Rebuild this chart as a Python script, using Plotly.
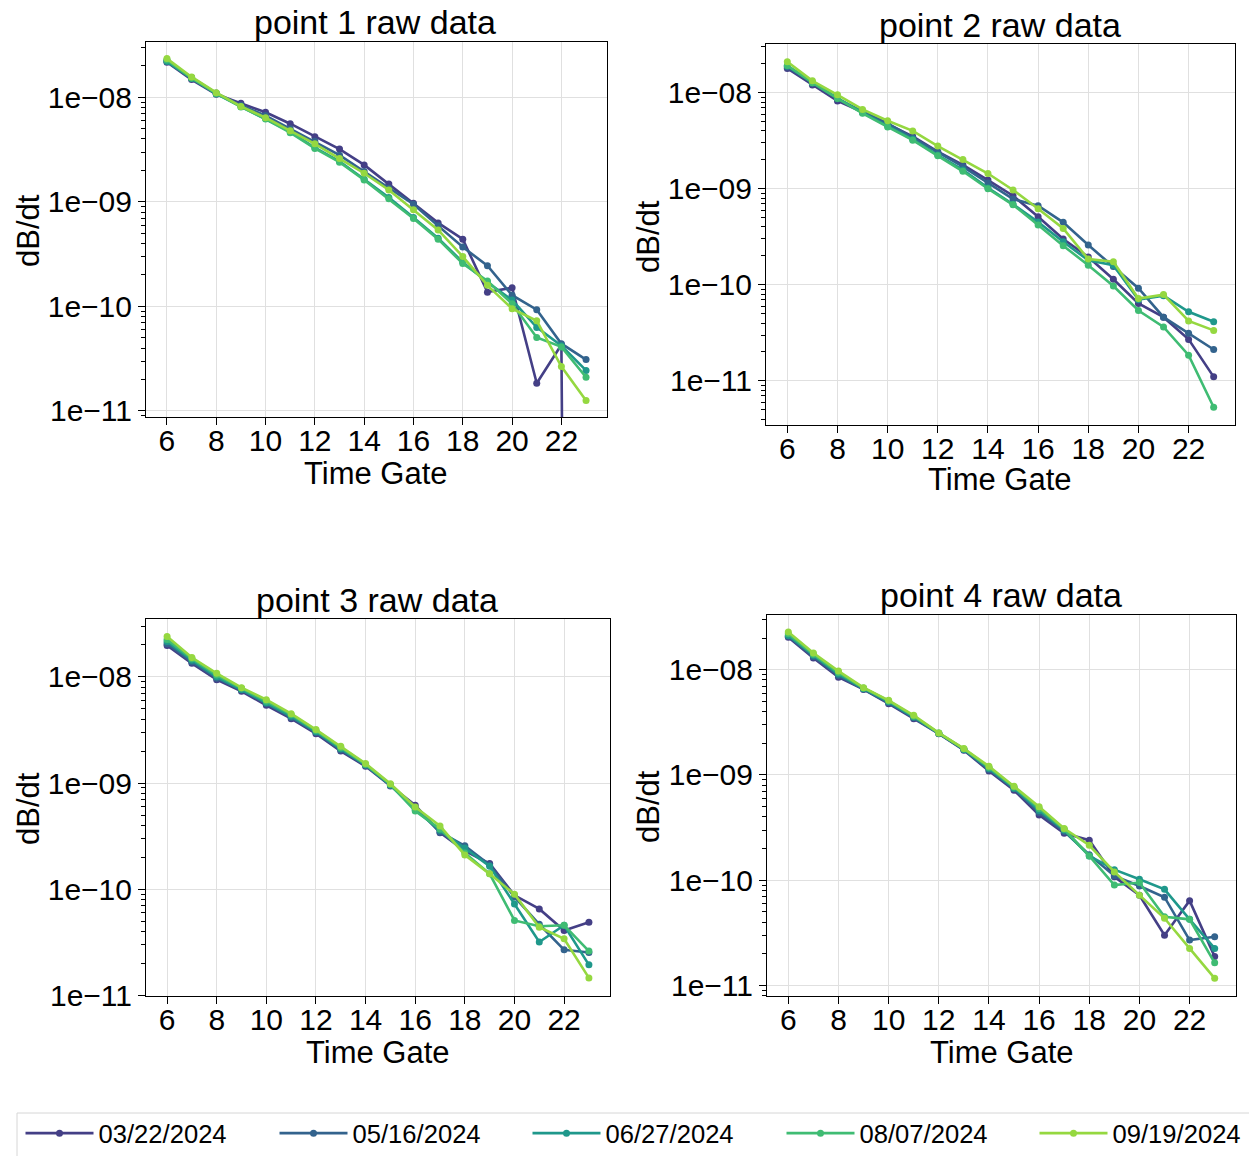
import plotly.graph_objects as go

W, H = 1249, 1156

gates = list(range(6, 24))
dates = ["03/22/2024", "05/16/2024", "06/27/2024", "08/07/2024", "09/19/2024"]
colors = ["#443f86", "#33638d", "#1f988b", "#3fbc73", "#95d840"]

# point 1 (last value of 03/22/2024 is non-positive in the source -> clipped far below axis)
p1_0322 = [2.17e-8, 1.48e-8, 1.07e-8, 8.8e-9, 7.2e-9, 5.6e-9, 4.2e-9, 3.2e-9, 2.26e-9, 1.48e-9, 9.7e-10, 6.3e-10, 4.4e-10, 1.37e-10, 1.51e-10, 1.84e-11, 4.3e-11, 1e-40]
p1_0516 = [2.25e-8, 1.55e-8, 1.1e-8, 8.4e-9, 6.7e-9, 5.0e-9, 3.8e-9, 2.8e-9, 1.95e-9, 1.35e-9, 9.5e-10, 5.9e-10, 3.7e-10, 2.45e-10, 1.28e-10, 9.3e-11, 4.4e-11, 3.1e-11]
p1_0627 = [2.2e-8, 1.52e-8, 1.08e-8, 8.2e-9, 6.3e-9, 4.7e-9, 3.3e-9, 2.45e-9, 1.65e-9, 1.1e-9, 7.1e-10, 4.5e-10, 2.65e-10, 1.7e-10, 1.15e-10, 6.3e-11, 4.2e-11, 2.44e-11]
p1_0807 = [2.28e-8, 1.53e-8, 1.09e-8, 8.1e-9, 6.2e-9, 4.6e-9, 3.25e-9, 2.4e-9, 1.62e-9, 1.07e-9, 6.95e-10, 4.4e-10, 2.57e-10, 1.75e-10, 1.06e-10, 5.05e-11, 4.1e-11, 2.1e-11]
p1_0919 = [2.35e-8, 1.57e-8, 1.11e-8, 8.2e-9, 6.4e-9, 4.8e-9, 3.6e-9, 2.6e-9, 1.88e-9, 1.3e-9, 8.4e-10, 5.4e-10, 3.0e-10, 1.59e-10, 9.5e-11, 7.3e-11, 2.66e-11, 1.26e-11]

# point 2
p2_0322 = [1.79e-8, 1.2e-8, 8.2e-9, 6.3e-9, 4.7e-9, 3.5e-9, 2.43e-9, 1.77e-9, 1.23e-9, 8.45e-10, 5.1e-10, 3.0e-10, 1.95e-10, 1.14e-10, 6.4e-11, 4.6e-11, 2.7e-11, 1.1e-11]
p2_0516 = [1.85e-8, 1.25e-8, 8.6e-9, 6.4e-9, 4.8e-9, 3.4e-9, 2.4e-9, 1.7e-9, 1.15e-9, 7.8e-10, 6.65e-10, 4.47e-10, 2.59e-10, 1.55e-10, 9.2e-11, 4.6e-11, 3.12e-11, 2.12e-11]
p2_0627 = [1.9e-8, 1.28e-8, 8.8e-9, 6.2e-9, 4.5e-9, 3.27e-9, 2.24e-9, 1.57e-9, 1.02e-9, 6.9e-10, 4.5e-10, 2.8e-10, 1.8e-10, 1.6e-10, 7.0e-11, 7.7e-11, 5.24e-11, 4.12e-11]
p2_0807 = [1.92e-8, 1.27e-8, 8.7e-9, 6.1e-9, 4.4e-9, 3.2e-9, 2.2e-9, 1.52e-9, 1.0e-9, 6.8e-10, 4.2e-10, 2.55e-10, 1.6e-10, 9.7e-11, 5.4e-11, 3.64e-11, 1.85e-11, 5.3e-12]
p2_0919 = [2.1e-8, 1.33e-8, 9.5e-9, 6.7e-9, 5.1e-9, 4.0e-9, 2.78e-9, 2.02e-9, 1.44e-9, 9.7e-10, 6.2e-10, 3.86e-10, 1.85e-10, 1.74e-10, 7.2e-11, 7.9e-11, 4.2e-11, 3.35e-11]

# point 3
p3_0322 = [1.97e-8, 1.34e-8, 9.4e-9, 7.3e-9, 5.4e-9, 4.04e-9, 2.92e-9, 2.0e-9, 1.44e-9, 9.4e-10, 6.2e-10, 3.42e-10, 2.3e-10, 1.75e-10, 8.8e-11, 6.55e-11, 4.1e-11, 4.9e-11]
p3_0516 = [2.05e-8, 1.38e-8, 9.7e-9, 7.5e-9, 5.6e-9, 4.15e-9, 3.0e-9, 2.05e-9, 1.47e-9, 9.5e-10, 5.9e-10, 3.45e-10, 2.57e-10, 1.7e-10, 8.5e-11, 4.7e-11, 2.7e-11, 2.55e-11]
p3_0627 = [2.15e-8, 1.43e-8, 1.0e-8, 7.6e-9, 5.7e-9, 4.25e-9, 3.05e-9, 2.1e-9, 1.48e-9, 9.6e-10, 5.6e-10, 3.6e-10, 2.45e-10, 1.65e-10, 7.3e-11, 3.2e-11, 4.6e-11, 1.95e-11]
p3_0807 = [2.25e-8, 1.48e-8, 1.04e-8, 7.8e-9, 5.9e-9, 4.4e-9, 3.12e-9, 2.15e-9, 1.5e-9, 9.7e-10, 5.46e-10, 3.7e-10, 2.2e-10, 1.4e-10, 5.1e-11, 4.5e-11, 4.6e-11, 2.63e-11]
p3_0919 = [2.39e-8, 1.52e-8, 1.08e-8, 7.9e-9, 6.1e-9, 4.5e-9, 3.19e-9, 2.22e-9, 1.53e-9, 9.86e-10, 5.96e-10, 3.95e-10, 2.11e-10, 1.4e-10, 9.0e-11, 4.4e-11, 3.43e-11, 1.47e-11]

# point 4
p4_0322 = [2.04e-8, 1.29e-8, 8.5e-9, 6.5e-9, 4.76e-9, 3.43e-9, 2.47e-9, 1.72e-9, 1.09e-9, 7.16e-10, 4.17e-10, 2.79e-10, 2.4e-10, 1.08e-10, 7.2e-11, 3.0e-11, 6.4e-11, 1.88e-11]
p4_0516 = [2.08e-8, 1.33e-8, 8.8e-9, 6.55e-9, 4.85e-9, 3.5e-9, 2.48e-9, 1.74e-9, 1.12e-9, 7.4e-10, 4.4e-10, 2.9e-10, 1.75e-10, 1.1e-10, 8.8e-11, 6.9e-11, 2.7e-11, 2.9e-11]
p4_0627 = [2.12e-8, 1.37e-8, 9.1e-9, 6.6e-9, 4.95e-9, 3.55e-9, 2.49e-9, 1.75e-9, 1.15e-9, 7.5e-10, 4.6e-10, 3.0e-10, 1.7e-10, 1.26e-10, 1.02e-10, 8.2e-11, 4.25e-11, 2.25e-11]
p4_0807 = [2.2e-8, 1.4e-8, 9.4e-9, 6.7e-9, 5.05e-9, 3.62e-9, 2.5e-9, 1.77e-9, 1.18e-9, 7.7e-10, 4.8e-10, 3.05e-10, 1.7e-10, 9.0e-11, 9.5e-11, 4.5e-11, 4.25e-11, 1.64e-11]
p4_0919 = [2.28e-8, 1.44e-8, 9.7e-9, 6.75e-9, 5.12e-9, 3.69e-9, 2.51e-9, 1.78e-9, 1.21e-9, 7.8e-10, 5.0e-10, 3.1e-10, 2.15e-10, 1.2e-10, 7.2e-11, 4.35e-11, 2.25e-11, 1.17e-11]

titles = ["point 1 raw data", "point 2 raw data", "point 3 raw data", "point 4 raw data"]
xtick_vals = [6, 8, 10, 12, 14, 16, 18, 20, 22]
ytick_vals = [1e-8, 1e-9, 1e-10, 1e-11]
ytick_text = ["1e\u221208", "1e\u221209", "1e\u221210", "1e\u221211"]

panels = [
    [p1_0322, p1_0516, p1_0627, p1_0807, p1_0919],
    [p2_0322, p2_0516, p2_0627, p2_0807, p2_0919],
    [p3_0322, p3_0516, p3_0627, p3_0807, p3_0919],
    [p4_0322, p4_0516, p4_0627, p4_0807, p4_0919],
]

# layout (pixels): plot box left, right, top, bottom
boxes = [(146, 607, 42, 417), (766, 1235, 44, 425), (146, 610, 619, 996), (767, 1236, 615, 996)]
yranges = [(-11.058, -7.47), (-11.46, -7.493), (-11.003, -7.456), (-11.1, -7.48)]
title_pos = [(375, 22), (1000, 25), (377, 600), (1001, 595)]
ylab_pos = [(28, 230), (648, 236), (28, 808), (648, 806)]
xlab_pos = [(376, 473), (1000, 480), (378, 1052), (1002, 1052)]
legend_text_x = [98, 352, 605, 859, 1112]
ITEMW = 68

FONT = "Liberation Sans, Arial, sans-serif"

fig = go.Figure()
minor_vals = [m * 10.0 ** e for e in range(-13, -6) for m in range(2, 10)]
legend_ids = ["legend"] + ["legend%d" % k for k in range(2, 6)]

annotations = []
for i, series in enumerate(panels):
    ax = "" if i == 0 else str(i + 1)
    for j, vals in enumerate(series):
        fig.add_trace(go.Scatter(
            x=gates, y=vals, mode="lines+markers",
            name=dates[j], legendgroup=dates[j], showlegend=(i == 0),
            legend=legend_ids[j],
            line=dict(color=colors[j], width=2.6),
            marker=dict(color=colors[j], size=7),
            xaxis="x" + ax, yaxis="y" + ax,
        ))
    l, r, t, b = boxes[i]
    fig.layout["xaxis" + ax] = dict(
        domain=[l / W, r / W], anchor="y" + ax, range=[5.15, 23.85],
        tickvals=xtick_vals, ticks="outside", ticklen=7, tickwidth=1, tickcolor="black",
        ticklabelstandoff=-10,
        showline=True, linecolor="black", linewidth=1, mirror=True,
        showgrid=True, gridcolor="#e0e0e0", gridwidth=1, zeroline=False,
        tickfont=dict(size=30, color="black", family=FONT),
    )
    fig.layout["yaxis" + ax] = dict(
        domain=[1 - b / H, 1 - t / H], anchor="x" + ax, type="log",
        range=list(yranges[i]),
        tickvals=ytick_vals, ticktext=ytick_text,
        ticks="outside", ticklen=7, tickwidth=1, tickcolor="black",
        minor=dict(tickvals=minor_vals, ticks="outside", ticklen=4, tickcolor="black", showgrid=False),
        showline=True, linecolor="black", linewidth=1, mirror=True,
        showgrid=True, gridcolor="#e0e0e0", gridwidth=1, zeroline=False,
        tickfont=dict(size=30, color="black", family=FONT),
    )
    tx, ty = title_pos[i]
    annotations.append(dict(text=titles[i], x=tx / W, y=1 - ty / H, xref="paper", yref="paper",
                            xanchor="center", yanchor="middle", showarrow=False,
                            font=dict(size=34, color="black", family=FONT)))
    yx, yy = ylab_pos[i]
    annotations.append(dict(text="dB/dt", x=yx / W, y=1 - yy / H, xref="paper", yref="paper",
                            xanchor="center", yanchor="middle", showarrow=False, textangle=-90,
                            font=dict(size=31, color="black", family=FONT)))
    lx, ly = xlab_pos[i]
    annotations.append(dict(text="Time Gate", x=lx / W, y=1 - ly / H, xref="paper", yref="paper",
                            xanchor="center", yanchor="middle", showarrow=False,
                            font=dict(size=31, color="black", family=FONT)))

# legend frame (extends past the right and bottom edges as in the original)
shapes = [dict(type="rect", xref="paper", yref="paper",
               x0=17 / W, x1=1.02, y0=-0.02, y1=1 - 1113 / H,
               line=dict(color="#d6d6d6", width=1), fillcolor="white", layer="below")]

layout_legends = {}
for k, lid in enumerate(legend_ids):
    layout_legends[lid] = dict(
        orientation="h", x=(legend_text_x[k] - ITEMW - 9.5) / W, y=1 - 1110 / H,
        xanchor="left", yanchor="top",
        font=dict(size=25.6, color="black", family=FONT),
        borderwidth=0, bgcolor="rgba(0,0,0,0)", itemwidth=ITEMW,
    )

fig.update_layout(
    width=W, height=H,
    margin=dict(l=0, r=0, t=0, b=0, autoexpand=False),
    paper_bgcolor="white", plot_bgcolor="white",
    font=dict(family=FONT, color="black"),
    annotations=annotations,
    shapes=shapes,
    showlegend=True,
    **layout_legends,
)

fig.write_html("out.html")
